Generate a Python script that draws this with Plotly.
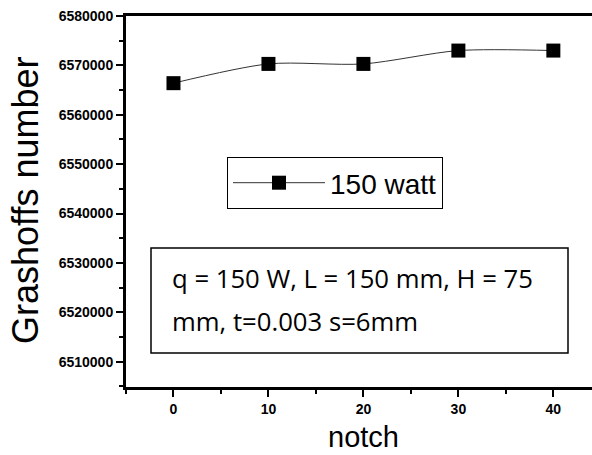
import plotly.graph_objects as go

notch = [0, 10, 20, 30, 40]
grashof = [6566400, 6570300, 6570300, 6573000, 6573000]
series_name = "150 watt"
ytick_vals = [6510000, 6520000, 6530000, 6540000, 6550000, 6560000, 6570000, 6580000]
xtick_vals = [0, 10, 20, 30, 40]
note_lines = ["q = 150 W, L = 150 mm, H = 75", "mm, t=0.003 s=6mm"]
x_title = "notch"
y_title = "Grashoffs number"

L, R, T, B = 126, 0, 16, 68
W, H = 592, 455
pw = W - L - R
ph = H - T - B


def px(x):
    return (x - L) / pw


def py(y):
    return (H - B - y) / ph


fig = go.Figure()
fig.add_trace(go.Scatter(
    x=notch, y=grashof, mode="lines+markers", name=series_name,
    line=dict(color="#333333", width=1, shape="spline", smoothing=0.8),
    marker=dict(symbol="square", size=14, color="black"),
))

tickfont = dict(family="Liberation Sans, Arial", size=14, color="black")

fig.update_layout(
    width=W, height=H,
    margin=dict(l=L, r=R, t=T, b=B),
    paper_bgcolor="white", plot_bgcolor="white",
    showlegend=True,
    legend=dict(
        x=px(227), y=py(157),
        xanchor="left", yanchor="top",
        bordercolor="black", borderwidth=1, bgcolor="white",
        font=dict(family="Liberation Sans, Arial", size=28, color="black"),
        itemwidth=92,
    ),
    xaxis=dict(
        range=[-5, 44.07], tickvals=xtick_vals,
        ticktext=[f"<b>{v}</b>" for v in xtick_vals],
        showline=True, linecolor="black", linewidth=3, mirror=True,
        ticks="outside", ticklen=7, tickwidth=2, tickcolor="black",
        minor=dict(ticks="outside", ticklen=4, tickwidth=2, tickcolor="black", dtick=5, tick0=0),
        showgrid=False, zeroline=False,
        tickfont=tickfont,
    ),
    yaxis=dict(
        range=[6504880, 6580000], tickvals=ytick_vals,
        ticktext=[f"<b>{v}</b>" for v in ytick_vals],
        showline=True, linecolor="black", linewidth=3, mirror=False,
        ticks="outside", ticklen=7, tickwidth=2, tickcolor="black",
        minor=dict(ticks="outside", ticklen=4, tickwidth=2, tickcolor="black", dtick=5000, tick0=6505000),
        showgrid=False, zeroline=False,
        tickfont=tickfont,
    ),
)

fig.add_annotation(xref="paper", yref="paper", x=px(363), y=py(437),
                   xanchor="center", yanchor="middle", showarrow=False, text=x_title,
                   font=dict(family="Liberation Sans, Arial", size=29, color="black"))
fig.add_annotation(xref="paper", yref="paper", x=px(25), y=py(201),
                   xanchor="center", yanchor="middle", showarrow=False, text=y_title,
                   textangle=-90,
                   font=dict(family="Liberation Sans, Arial", size=36, color="black"))

fig.add_shape(type="rect", xref="paper", yref="paper",
              x0=px(151), x1=px(568), y0=py(353), y1=py(248),
              line=dict(color="black", width=1.5), fillcolor="rgba(0,0,0,0)")
for i, line in enumerate(note_lines):
    fig.add_annotation(xref="paper", yref="paper", x=px(170), y=py(278 + 43 * i),
                       xanchor="left", yanchor="middle", showarrow=False, text=line,
                       font=dict(family="Open Sans", size=25.7, color="black"))

fig.write_html("out.html")
